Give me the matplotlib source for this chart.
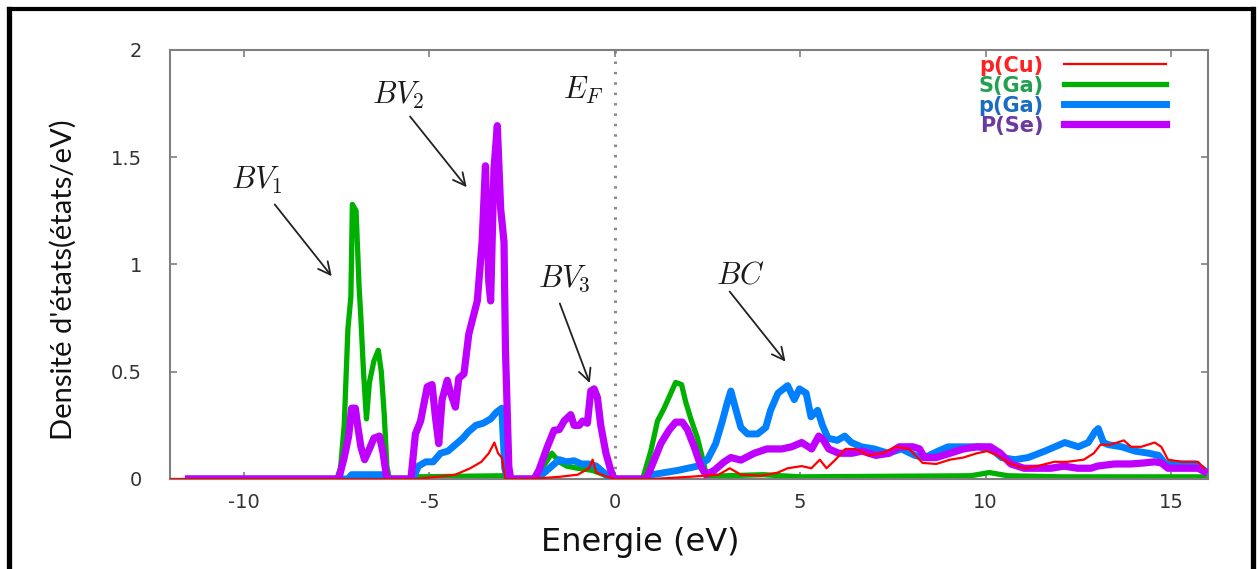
import matplotlib
matplotlib.use("Agg")
import matplotlib.pyplot as plt
from matplotlib.lines import Line2D

plt.rcParams['mathtext.fontset'] = 'cm'

# densite d'etats partielle, (energie eV, DOS) lue point par point
p_cu = [(-12.0, 0), (-5.4, 0), (-4.8, 0.01), (-4.3, 0.02), (-3.9, 0.05), (-3.6, 0.08),
        (-3.4, 0.12), (-3.25, 0.17), (-3.15, 0.12), (-3.05, 0.1), (-2.95, 0), (-2.3, 0),
        (-1.5, 0.01), (-1.0, 0.02), (-0.7, 0.05), (-0.6, 0.09), (-0.5, 0.03), (-0.2, 0.01),
        (0.0, 0), (1.0, 0), (2.0, 0.01), (2.8, 0.02), (3.1, 0.05), (3.4, 0.02), (3.95, 0.015),
        (4.4, 0.03), (4.66, 0.05), (5.04, 0.06), (5.3, 0.05), (5.53, 0.09), (5.71, 0.05),
        (5.95, 0.09), (6.22, 0.14), (6.49, 0.14), (6.85, 0.11), (7.22, 0.12), (7.58, 0.15),
        (7.94, 0.14), (8.3, 0.075), (8.67, 0.07), (9.04, 0.09), (9.4, 0.10), (9.77, 0.12),
        (10.04, 0.13), (10.31, 0.11), (10.68, 0.07), (11.04, 0.05), (11.4, 0.06), (11.85, 0.08),
        (12.2, 0.08), (12.65, 0.09), (12.92, 0.12), (13.1, 0.16), (13.37, 0.16), (13.73, 0.18),
        (13.92, 0.15), (14.2, 0.15), (14.56, 0.17), (14.74, 0.15), (14.92, 0.09), (15.3, 0.08),
        (15.73, 0.08), (15.9, 0.05)]

s_ga = [(-11.5, 0), (-7.5, 0), (-7.4, 0.05), (-7.3, 0.25), (-7.2, 0.7), (-7.12, 0.85),
        (-7.08, 1.28), (-6.98, 1.25), (-6.9, 0.9), (-6.85, 0.75), (-6.78, 0.5), (-6.7, 0.28),
        (-6.62, 0.45), (-6.5, 0.55), (-6.38, 0.6), (-6.3, 0.5), (-6.22, 0.3), (-6.15, 0.06),
        (-6.08, 0), (-5.5, 0), (-5.4, 0.01), (-3.0, 0.015), (-2.9, 0), (-2.2, 0), (-2.0, 0.04),
        (-1.85, 0.08), (-1.7, 0.12), (-1.5, 0.08), (-1.3, 0.06), (-1.0, 0.05), (-0.6, 0.04),
        (-0.3, 0.02), (-0.1, 0), (0.75, 0), (0.97, 0.13), (1.15, 0.27), (1.33, 0.33),
        (1.51, 0.40), (1.64, 0.45), (1.8, 0.44), (1.91, 0.36), (2.05, 0.28), (2.23, 0.19),
        (2.36, 0.1), (2.48, 0.01), (3.0, 0.015), (4.0, 0.02), (5.0, 0.01), (9.6, 0.015),
        (10.1, 0.03), (10.6, 0.015), (12.0, 0.01), (15.9, 0.01)]

p_ga = [(-11.5, 0), (-7.2, 0), (-7.1, 0.02), (-6.2, 0.02), (-6.1, 0), (-5.45, 0), (-5.3, 0.06),
        (-5.1, 0.08), (-4.9, 0.08), (-4.7, 0.12), (-4.5, 0.13), (-4.3, 0.16), (-4.1, 0.19),
        (-3.95, 0.22), (-3.75, 0.25), (-3.55, 0.26), (-3.35, 0.28), (-3.2, 0.31), (-3.05, 0.33),
        (-2.97, 0.05), (-2.9, 0), (-2.1, 0), (-1.9, 0.03), (-1.7, 0.06), (-1.5, 0.09),
        (-1.3, 0.08), (-1.1, 0.085), (-0.9, 0.07), (-0.7, 0.07), (-0.5, 0.06), (-0.3, 0.03),
        (-0.1, 0), (0.8, 0), (1.0, 0.02), (1.7, 0.04), (2.23, 0.06), (2.5, 0.09), (2.72, 0.165),
        (2.9, 0.27), (3.04, 0.36), (3.13, 0.41), (3.27, 0.32), (3.4, 0.24), (3.58, 0.21),
        (3.85, 0.21), (4.07, 0.24), (4.2, 0.32), (4.4, 0.40), (4.66, 0.435), (4.84, 0.37),
        (4.98, 0.42), (5.16, 0.40), (5.29, 0.29), (5.47, 0.32), (5.6, 0.25), (5.75, 0.19),
        (6.0, 0.18), (6.2, 0.2), (6.38, 0.17), (6.65, 0.15), (7.0, 0.14), (7.37, 0.12),
        (7.73, 0.14), (8.09, 0.11), (8.36, 0.10), (8.72, 0.13), (8.99, 0.15), (9.35, 0.15),
        (9.8, 0.15), (10.16, 0.14), (10.43, 0.10), (10.79, 0.09), (11.15, 0.10), (11.6, 0.13),
        (11.87, 0.15), (12.14, 0.17), (12.5, 0.15), (12.77, 0.17), (12.95, 0.22), (13.04, 0.235),
        (13.18, 0.17), (13.31, 0.16), (13.67, 0.15), (14.03, 0.13), (14.4, 0.12), (14.67, 0.11),
        (14.85, 0.07), (15.3, 0.07), (15.66, 0.07), (15.9, 0.04)]

p_se = [(-11.5, 0), (-7.45, 0), (-7.3, 0.1), (-7.18, 0.2), (-7.1, 0.33), (-7.0, 0.33),
        (-6.93, 0.24), (-6.85, 0.15), (-6.75, 0.09), (-6.62, 0.14), (-6.5, 0.19), (-6.35, 0.2),
        (-6.25, 0.12), (-6.15, 0), (-5.5, 0), (-5.38, 0.21), (-5.24, 0.27), (-5.06, 0.43),
        (-4.93, 0.44), (-4.84, 0.29), (-4.75, 0.165), (-4.66, 0.37), (-4.52, 0.46), (-4.43, 0.40),
        (-4.30, 0.335), (-4.21, 0.47), (-4.07, 0.49), (-3.94, 0.675), (-3.85, 0.736),
        (-3.71, 0.83), (-3.58, 1.106), (-3.49, 1.46), (-3.40, 0.92), (-3.35, 0.83),
        (-3.26, 1.446), (-3.17, 1.647), (-3.08, 1.26), (-2.99, 1.106), (-2.95, 0.6),
        (-2.86, 0.057), (-2.81, 0), (-2.18, 0), (-2.05, 0.04), (-1.82, 0.15), (-1.64, 0.227),
        (-1.5, 0.23), (-1.37, 0.27), (-1.19, 0.30), (-1.1, 0.25), (-0.96, 0.25), (-0.87, 0.27),
        (-0.74, 0.26), (-0.65, 0.41), (-0.56, 0.42), (-0.47, 0.38), (-0.38, 0.25), (-0.24, 0.12),
        (-0.11, 0.04), (-0.02, 0), (0.85, 0), (1.06, 0.088), (1.24, 0.165), (1.46, 0.227),
        (1.64, 0.265), (1.82, 0.265), (1.96, 0.23), (2.14, 0.15), (2.32, 0.06), (2.45, 0.02),
        (2.68, 0.04), (2.95, 0.08), (3.13, 0.1), (3.4, 0.088), (3.76, 0.12), (4.1, 0.14),
        (4.5, 0.14), (4.77, 0.15), (5.04, 0.17), (5.31, 0.14), (5.5, 0.20), (5.63, 0.18),
        (5.77, 0.14), (6.04, 0.12), (6.4, 0.12), (6.67, 0.13), (7.04, 0.11), (7.4, 0.12),
        (7.67, 0.15), (8.04, 0.15), (8.22, 0.14), (8.35, 0.10), (8.67, 0.10), (9.04, 0.12),
        (9.4, 0.14), (9.77, 0.15), (10.13, 0.15), (10.4, 0.12), (10.68, 0.07), (11.04, 0.05),
        (11.4, 0.05), (11.76, 0.05), (12.12, 0.06), (12.48, 0.05), (12.84, 0.05), (13.02, 0.06),
        (13.47, 0.07), (13.92, 0.07), (14.29, 0.075), (14.56, 0.08), (14.74, 0.075),
        (14.92, 0.05), (15.37, 0.05), (15.73, 0.05), (15.9, 0.035)]

labels = ["p(Cu)", "S(Ga)", "p(Ga)", "P(Se)"]
line_colors = ["#ff0000", "#00b000", "#0080ff", "#c000ff"]
text_colors = ["#ff2020", "#20a050", "#1a6cc0", "#6a3aa0"]
widths = [1.6, 3.8, 5.0, 5.2]
series = [p_cu, s_ga, p_ga, p_se]

fig = plt.figure(figsize=(12.59, 5.69), dpi=100)
ax = fig.add_axes([0.1350, 0.1582, 0.8245, 0.7540])

zorders = [5, 2, 3, 4]
for pts, lab, c, w, z in zip(series, labels, line_colors, widths, zorders):
    xs = [p[0] for p in pts]
    ys = [p[1] for p in pts]
    ax.plot(xs, ys, color=c, lw=w, label=lab, zorder=z)

# niveau de Fermi
ax.axvline(0, color="#8c8c8c", lw=2.2, ls=(0, (0.8, 2.6)), zorder=1)

ax.set_xlim(-12, 16)
ax.set_ylim(0, 2)
ax.set_xticks([-10, -5, 0, 5, 10, 15])
ax.set_xticklabels(["-10", "-5", "0", "5", "10", "15"])
ax.set_yticks([0, 0.5, 1, 1.5, 2])
ax.set_yticklabels(["0", "0.5", "1", "1.5", "2"])
ax.tick_params(direction="in", top=True, right=True, length=5, width=1.2,
               color="#7f7f7f", labelcolor="#333333", labelsize=14)
ax.tick_params(axis="y", pad=20)
ax.tick_params(axis="x", pad=10)
for sp in ax.spines.values():
    sp.set_color("#7f7f7f")
    sp.set_linewidth(1.5)

leg = ax.legend(loc="upper right", bbox_to_anchor=(0.974, 1.021), markerfirst=False,
                frameon=False, prop=dict(weight="bold", size=15), labelcolor=text_colors,
                handlelength=4.9, handletextpad=1.0, labelspacing=0.0, borderpad=0.2)

# annotations des bandes
ann = dict(fontsize=22, color="#1a1a1a", ha="center", va="center")
ax.text(-9.65, 1.39, r"$BV_1$", **ann)
ax.text(-5.84, 1.79, r"$BV_2$", **ann)
ax.text(-0.86, 1.81, r"$E_F$", **ann)
ax.text(-1.35, 0.935, r"$BV_3$", **ann)
ax.text(3.38, 0.95, r"$BC$", **ann)

arr = dict(arrowstyle="->", lw=1.3, color="#222222", mutation_scale=22)
ax.annotate("", xy=(-7.59, 0.935), xytext=(-9.22, 1.29), arrowprops=arr)
ax.annotate("", xy=(-3.95, 1.35), xytext=(-5.57, 1.70), arrowprops=arr)
ax.annotate("", xy=(-0.65, 0.435), xytext=(-1.51, 0.83), arrowprops=arr)
ax.annotate("", xy=(4.65, 0.537), xytext=(3.05, 0.884), arrowprops=arr)

fig.text(640 / 1259, 1 - 543 / 569, "Energie (eV)", ha="center", va="center",
         fontsize=23, color="#111111")
fig.text(63 / 1259, 1 - 280 / 569, "Densité d'états(états/eV)", ha="center", va="center",
         rotation=90, fontsize=21, family="Lato", color="#111111")

# cadre noir autour de la figure
W, H = 1259, 569
fig.add_artist(Line2D([8.5 / W, 8.5 / W], [0, 1 - 8.5 / H], transform=fig.transFigure,
                      color="k", lw=3.8))
fig.add_artist(Line2D([8.5 / W, 1252.5 / W], [1 - 8.5 / H, 1 - 8.5 / H],
                      transform=fig.transFigure, color="k", lw=3.0))
fig.add_artist(Line2D([1252.5 / W, 1252.5 / W], [0, 1 - 8.5 / H], transform=fig.transFigure,
                      color="k", lw=3.8))

fig.savefig("out.png", dpi=100)
